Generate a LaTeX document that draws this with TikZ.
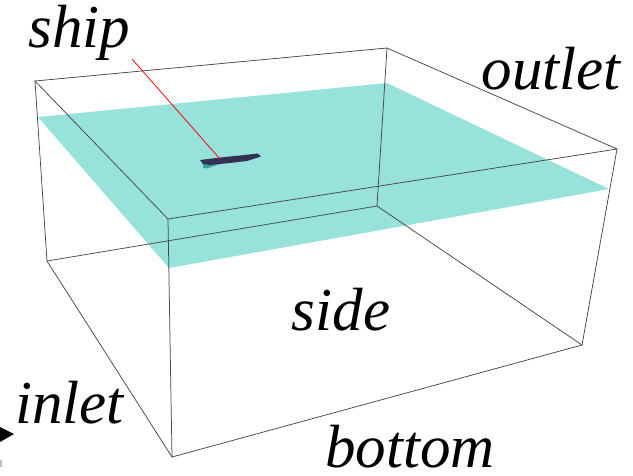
\documentclass[tikz,border=0pt]{standalone}
\usepackage{fontspec}
\setmainfont{Liberation Serif}
\definecolor{water}{RGB}{151,227,219}
\definecolor{hull}{RGB}{52,50,84}
\definecolor{wake}{RGB}{70,160,160}
\definecolor{edge}{RGB}{70,70,70}
\tikzset{
  wire/.style={edge,line width=0.75pt},
  lab/.style={font=\itshape\fontsize{61}{61}\selectfont,inner sep=0pt,anchor=base,text=black}
}
\begin{document}
\begin{tikzpicture}[x=1pt,y=-1pt]
\useasboundingbox (0,0) rectangle (633,475);
% corners
\coordinate (a) at (35,81);
\coordinate (b) at (387,48);
\coordinate (c) at (617,149);
\coordinate (d) at (168,219);
\coordinate (e) at (47,261);
\coordinate (f) at (377,206);
\coordinate (g) at (582,345);
\coordinate (h) at (172,457);
% water
\fill[water] (38,117) -- (387,83) -- (609,189) -- (169,268) -- cycle;
% ship
\fill[wake] (203,164) -- (222,163) -- (207,168.5) -- (203,168) -- cycle;
\fill[hull] (200,160) -- (220,157.5) -- (240,155.5) -- (258,153.5) -- (261,156.5) -- (247,161) -- (230,163) -- (210,165) -- (203,164) -- cycle;
% box
\draw[wire] (a) -- (b) -- (c) -- (d) -- cycle;
\draw[wire] (e) -- (f) -- (g) -- (h) -- cycle;
\draw[wire] (a) -- (e) (b) -- (f) (c) -- (g) (d) -- (h);
% leader
\coordinate (s) at (132,59);
\coordinate (t) at (220,159);
\draw[red,line width=0.8pt] (s) -- (t);
% labels
\node[lab] (ship) at (79.5,47) {ship};
\node[lab] (outlet) at (551,89) {outlet};
\node[lab] (side) at (341,330) {side};
\node[lab] (inlet) at (69.5,423) {inlet};
\node[lab] (bottom) at (410,467) {bottom};
% arrow fragment at left edge
\fill[black] (0,427) -- (14,434) -- (0,442) -- cycle;
\fill[black!25] (0,460) rectangle (2,467);
\end{tikzpicture}
\end{document}
